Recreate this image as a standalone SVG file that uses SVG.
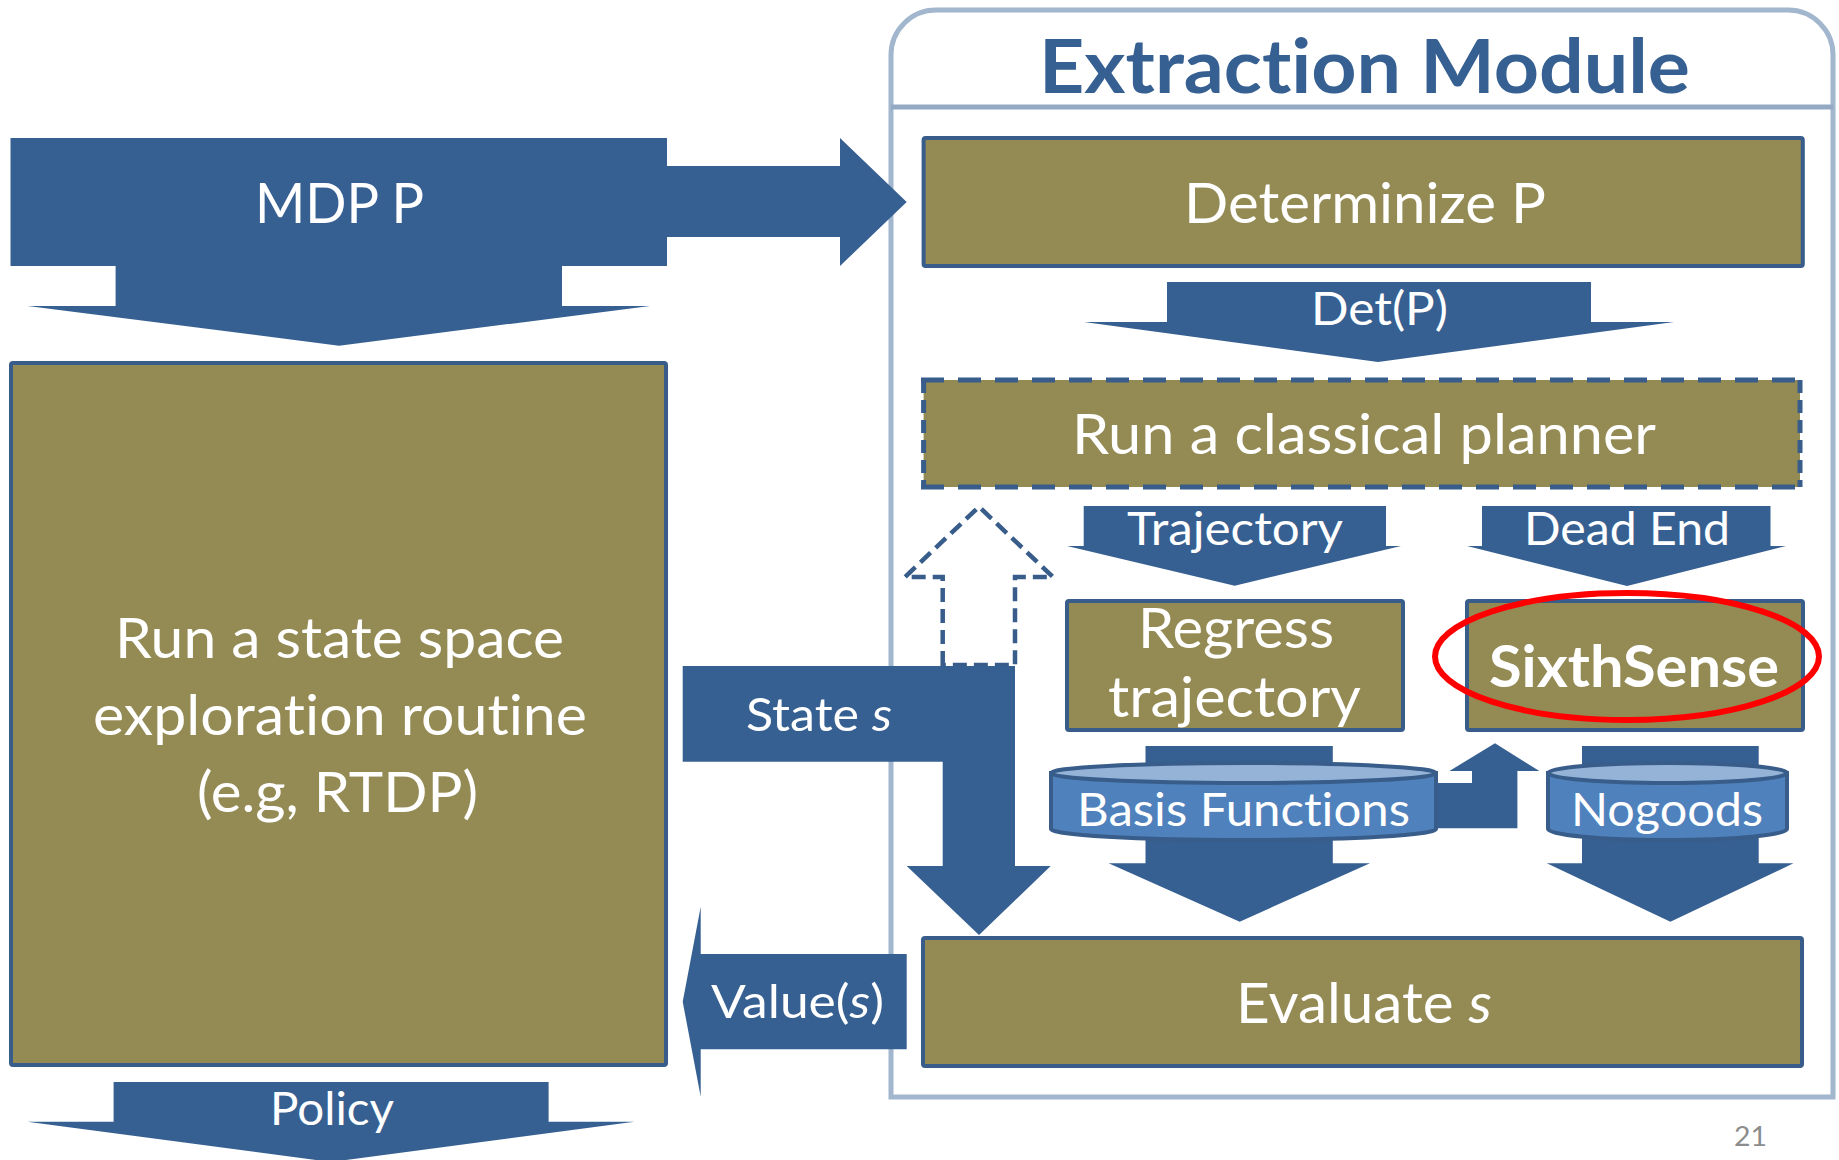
<svg xmlns="http://www.w3.org/2000/svg" width="1839" height="1160" viewBox="0 0 1839 1160">
<style>
.box{fill:#948a54;stroke:#385d8a;stroke-width:4}
.arr{fill:#376092;stroke:none}
.t{font-family:Lato,"Open Sans","Liberation Sans",sans-serif;fill:#ffffff;font-size:56px;font-variant-ligatures:none;font-feature-settings:"liga" 0,"clig" 0}
.s{font-size:46.5px}
.b{font-weight:bold}
.cyl{fill:#4f81bd;stroke:#385d8a;stroke-width:4}
.cyltop{fill:#95b3d7;stroke:#385d8a;stroke-width:4}
.dash{stroke:#385d8a;stroke-width:5;fill:none}
</style>
<rect width="1839" height="1160" fill="#ffffff"/>

<g id="extraction-module">
<path d="M891,1097 L891,55 A45,45 0 0 1 936,10 L1788,10 A45,45 0 0 1 1833,55 L1833,1097 Z" fill="none" stroke="#a2b6cd" stroke-width="5"/>
<line x1="891" y1="107" x2="1833" y2="107" stroke="#94a9c4" stroke-width="5"/>
<text class="t b" x="1039" y="93" style="font-size:75px;fill:#376092" textLength="651" lengthAdjust="spacingAndGlyphs">Extraction Module</text>
</g>

<g id="connectors">
<polygon class="arr" points="10.5,138 667,138 667,166 840,166 840,138 906.7,202 840,266 840,237 667,237 667,266 562,266 562,306 650,306 339,345.7 27.6,306 115.6,306 115.6,266 10.5,266"/>
<text class="t" x="255" y="222.7" textLength="169" lengthAdjust="spacingAndGlyphs">MDP P</text>

<polygon class="arr" points="1167,282 1591,282 1591,322 1674,322 1378,362 1084,322 1167,322"/>
<text class="t s" x="1311" y="325" textLength="137" lengthAdjust="spacingAndGlyphs">Det(P)</text>

<polygon class="arr" points="1083.7,506 1386,506 1386,546 1401,546 1234.7,585.7 1067,546 1083.7,546"/>
<text class="t s" x="1127" y="545" textLength="216" lengthAdjust="spacingAndGlyphs">Trajectory</text>

<polygon class="arr" points="1482,506 1770.5,506 1770.5,546 1786,546 1627,586 1467,546 1482,546"/>
<text class="t s" x="1524" y="545" textLength="206" lengthAdjust="spacingAndGlyphs">Dead End</text>

<polygon points="942.7,665 942.7,577 905,577 979,506.7 1053,577 1015,577 1015,665" fill="#ffffff" stroke="#385d8a" stroke-width="4.5" stroke-dasharray="14 7"/>

<polygon class="arr" points="682.7,666 1015,666 1015,866 1050.7,866 979,935 906.7,866 942.7,866 942.7,761.7 682.7,761.7"/>
<text class="t s" x="746" y="730.7" textLength="146" lengthAdjust="spacingAndGlyphs">State <tspan font-style="italic">s</tspan></text>

<polygon class="arr" points="906.7,954 700.7,954 700.7,906.7 682.7,1001.7 700.7,1096.7 700.7,1049.3 906.7,1049.3"/>
<text class="t s" x="711" y="1018.3" textLength="173" lengthAdjust="spacingAndGlyphs">Value(<tspan font-style="italic">s</tspan>)</text>

<polygon class="arr" points="113.6,1082 548.6,1082 548.6,1121.7 634.4,1121.7 331,1162 27.3,1121.7 113.6,1121.7"/>
<text class="t s" x="270" y="1125" textLength="124" lengthAdjust="spacingAndGlyphs">Policy</text>

<polygon class="arr" points="1145.5,746 1332.8,746 1332.8,863.3 1370,863.3 1239.7,921.7 1108.6,863.3 1145.5,863.3"/>
<polygon class="arr" points="1582,746 1758.7,746 1758.7,863.3 1793.5,863.3 1670.4,921.7 1546.8,863.3 1582,863.3"/>
<polygon class="arr" points="1430,783 1472,783 1472,771 1449.4,771 1495,743.3 1539.3,771 1517.4,771 1517.4,828.3 1430,828.3"/>
</g>

<g id="node-exploration">
<rect class="box" x="11" y="363" width="655" height="702" rx="2"/>
<text class="t" x="115" y="658.3" textLength="449" lengthAdjust="spacingAndGlyphs">Run a state space</text>
<text class="t" x="93" y="735" textLength="494" lengthAdjust="spacingAndGlyphs">exploration routine</text>
<text class="t" x="197" y="811.7" textLength="281" lengthAdjust="spacingAndGlyphs">(e.g, RTDP)</text>
</g>

<g id="node-determinize">
<rect class="box" x="923.6" y="138" width="879.2" height="128" rx="2"/>
<text class="t" x="1184" y="223" textLength="362" lengthAdjust="spacingAndGlyphs">Determinize P</text>
</g>

<g id="node-planner">
<rect x="923.6" y="380" width="876.4" height="107" fill="#948a54"/>
<line class="dash" x1="921" y1="380" x2="1802" y2="380" stroke-dasharray="23 14"/>
<line class="dash" x1="921" y1="487" x2="1802" y2="487" stroke-dasharray="23 14"/>
<line class="dash" x1="923.6" y1="380" x2="923.6" y2="487" stroke-dasharray="13 7"/>
<line class="dash" x1="1800" y1="380" x2="1800" y2="487" stroke-dasharray="13 7"/>
<text class="t" x="1072" y="454" textLength="584" lengthAdjust="spacingAndGlyphs">Run a classical planner</text>
</g>

<g id="node-regress">
<rect class="box" x="1067" y="601" width="336" height="129" rx="2"/>
<text class="t" x="1138" y="648" textLength="196" lengthAdjust="spacingAndGlyphs">Regress</text>
<text class="t" x="1108" y="717" textLength="253" lengthAdjust="spacingAndGlyphs">trajectory</text>
</g>

<g id="node-sixthsense">
<rect class="box" x="1467" y="601" width="336" height="129" rx="2"/>
<text class="t b" x="1489" y="687" style="font-size:57px" textLength="290" lengthAdjust="spacingAndGlyphs">SixthSense</text>
<ellipse cx="1627" cy="656.5" rx="192" ry="63.5" fill="none" stroke="#ff0000" stroke-width="6"/>
</g>

<g id="node-basis">
<path class="cyl" d="M1051,773 L1051,829 A192.5,11 0 0 0 1436,829 L1436,773 Z"/>
<ellipse class="cyltop" cx="1243.5" cy="773" rx="192.5" ry="10"/>
<text class="t s" x="1077" y="826" textLength="333" lengthAdjust="spacingAndGlyphs">Basis Functions</text>
</g>

<g id="node-nogoods">
<path class="cyl" d="M1548,773 L1548,829 A119.5,11 0 0 0 1787,829 L1787,773 Z"/>
<ellipse class="cyltop" cx="1667.5" cy="773" rx="119.5" ry="10"/>
<text class="t s" x="1571" y="826" textLength="192" lengthAdjust="spacingAndGlyphs">Nogoods</text>
</g>

<g id="node-evaluate">
<rect class="box" x="923" y="938" width="879" height="128" rx="2"/>
<text class="t" x="1236" y="1023" textLength="256" lengthAdjust="spacingAndGlyphs">Evaluate <tspan font-style="italic">s</tspan></text>
</g>

<text x="1734" y="1146" style="font-family:Lato,'Liberation Sans',sans-serif;font-size:27px;fill:#8c8c8c" textLength="33" lengthAdjust="spacingAndGlyphs">21</text>
</svg>
